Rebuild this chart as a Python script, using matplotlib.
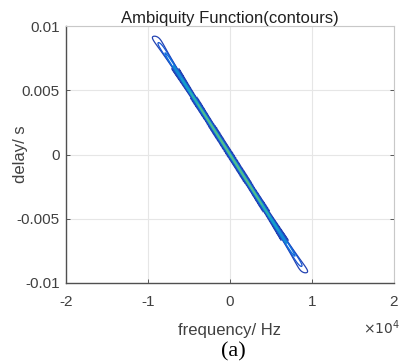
import numpy as np
import matplotlib
matplotlib.use("Agg")
import matplotlib.pyplot as plt
from matplotlib.colors import LinearSegmentedColormap
from matplotlib.ticker import FixedLocator

# ---- chart parameters / data ----
pulse_width = 0.0099        # s
chirp_rate = 1.0e6          # Hz/s
contour_levels = [0.07, 0.12, 0.2, 0.3, 0.4, 0.5, 0.6]
x_ticks = [-2e4, -1e4, 0, 1e4, 2e4]
x_tick_labels = ["-2", "-1", "0", "1", "2"]
y_ticks = [-0.01, -0.005, 0, 0.005, 0.01]
y_tick_labels = ["-0.01", "-0.005", "0", "0.005", "0.01"]
title = "Ambiquity Function(contours)"
xlabel = "frequency/ Hz"
ylabel = "delay/ s"
caption = "(a)"

# ---- ambiguity surface of LFM pulse ----
tau = np.linspace(-0.01, 0.01, 801)
freq = np.linspace(-2e4, 2e4, 451)
F, TAU = np.meshgrid(freq, tau)
env = np.clip(1 - np.abs(TAU) / pulse_width, 0, None)
Z = env * np.abs(np.sinc((F + chirp_rate * TAU) * np.clip(pulse_width - np.abs(TAU), 0, None)))

parula = LinearSegmentedColormap.from_list("parula", [
    (0.00, (0.208, 0.166, 0.529)),
    (0.14, (0.070, 0.370, 0.880)),
    (0.28, (0.070, 0.530, 0.830)),
    (0.43, (0.090, 0.650, 0.770)),
    (0.57, (0.250, 0.730, 0.600)),
    (0.71, (0.600, 0.750, 0.400)),
    (0.86, (0.920, 0.730, 0.240)),
    (1.00, (0.976, 0.984, 0.055)),
])

plt.rcParams['font.family'] = ['Liberation Sans', 'DejaVu Sans']
fig = plt.figure(figsize=(4.02, 3.62), dpi=100)
ax = fig.add_axes([66/402, 1-283/362, 328/402, 257/362])

ax.contour(F, TAU, Z, levels=contour_levels, cmap=parula, vmin=0, vmax=1,
           linewidths=0.9)

ax.set_xlim(-2e4, 2e4)
ax.set_ylim(-0.01, 0.01)
ax.xaxis.set_major_locator(FixedLocator(x_ticks))
ax.set_xticklabels(x_tick_labels)
ax.yaxis.set_major_locator(FixedLocator(y_ticks))
ax.set_yticklabels(y_tick_labels)
ax.grid(True, color='#e6e6e6', linewidth=0.8)
ax.set_axisbelow(True)
ax.tick_params(direction='in', length=3, labelsize=11, colors='#404040',
               top=False, right=True, width=0.6)
ax.tick_params(axis='x', pad=9)
ax.tick_params(axis='y', pad=4.5)
for s in ['left', 'bottom']:
    ax.spines[s].set_color('#505050')
    ax.spines[s].set_linewidth(1.0)
for s in ['top', 'right']:
    ax.spines[s].set_color('#c8c8c8')
    ax.spines[s].set_linewidth(0.8)

ax.set_title(title, fontsize=12, color='#202020', pad=2)
ax.set_xlabel(xlabel, fontsize=12, color='#404040')
ax.set_ylabel(ylabel, fontsize=12, color='#404040')
ax.xaxis.set_label_coords(0.5, (283-323)/257)
ax.yaxis.set_label_coords((28-66)/328, 0.5)
fig.text(381/402, 1-328/362, r"$\times10^{4}$", fontsize=10, color='#404040',
         ha='center', va='center')
fig.text(233/402, 1-352/362, caption, fontsize=16, family='Liberation Serif',
         ha='center', va='center', color='black')

fig.savefig("out.png", dpi=100)
